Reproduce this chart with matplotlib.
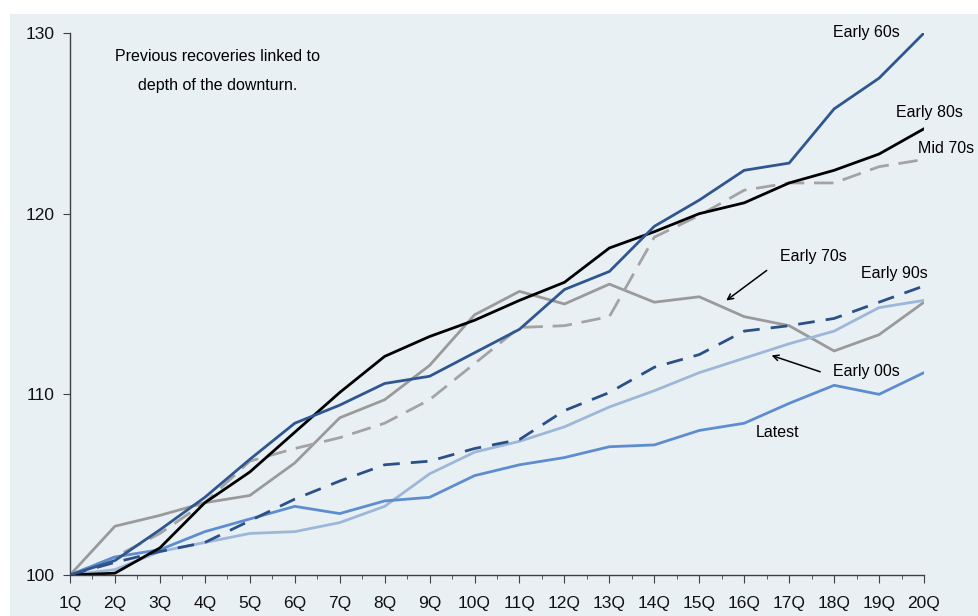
import matplotlib
matplotlib.use("Agg")
import matplotlib.pyplot as plt
from matplotlib.patches import Rectangle
from matplotlib.ticker import MultipleLocator

plt.rcParams['font.family'] = ['Liberation Sans', 'DejaVu Sans']

quarters = [f"{i}Q" for i in range(1, 21)]

early_60s = [100, 100.8, 102.5, 104.3, 106.4, 108.4, 109.4, 110.6, 111.0, 112.3,
             113.6, 115.8, 116.8, 119.3, 120.75, 122.4, 122.8, 125.8, 127.5, 130.0]
early_80s = [100, 100.1, 101.5, 104.0, 105.7, 107.9, 110.1, 112.1, 113.2, 114.1,
             115.2, 116.2, 118.1, 119.0, 120.0, 120.6, 121.7, 122.4, 123.3, 124.7]
mid_70s = [100, 101.0, 102.3, 104.0, 106.3, 107.0, 107.6, 108.4, 109.7, 111.7,
           113.7, 113.8, 114.3, 118.7, 119.9, 121.3, 121.7, 121.7, 122.6, 123.0]
early_70s = [100, 102.7, 103.3, 104.0, 104.4, 106.2, 108.7, 109.7, 111.6, 114.4,
             115.7, 115.0, 116.1, 115.1, 115.4, 114.3, 113.8, 112.4, 113.3, 115.1]
early_90s = [100, 100.7, 101.3, 101.8, 103.0, 104.2, 105.2, 106.1, 106.3, 107.0,
             107.5, 109.1, 110.1, 111.5, 112.2, 113.5, 113.8, 114.2, 115.1, 116.0]
early_00s = [100, 100.3, 101.3, 101.8, 102.3, 102.4, 102.9, 103.8, 105.6, 106.8,
             107.4, 108.2, 109.3, 110.2, 111.2, 112.0, 112.8, 113.5, 114.8, 115.2]
latest = [100, 101.0, 101.4, 102.4, 103.1, 103.8, 103.4, 104.1, 104.3, 105.5,
          106.1, 106.5, 107.1, 107.2, 108.0, 108.4, 109.5, 110.5, 110.0, 111.2]

fig = plt.figure(figsize=(9.79, 6.16), dpi=100, facecolor='white')
# light panel behind the chart
fig.patches.append(Rectangle((10 / 979, 0), 1, (616 - 14) / 616,
                             transform=fig.transFigure, facecolor='#e9f0f4',
                             edgecolor='none', zorder=-5))

ax = fig.add_axes([70 / 979, 41 / 616, 854 / 979, 542 / 616])
ax.set_facecolor('none')
ax.set_zorder(5)

x = range(len(quarters))
lw = 2.0
ax.plot(x, early_70s, color='#9a9a9a', lw=lw)
ax.plot(x, mid_70s, color='#a3a3a3', lw=lw, dashes=(7, 3.5))
ax.plot(x, early_00s, color='#9db7d9', lw=lw)
ax.plot(x, latest, color='#5e8dcf', lw=lw)
ax.plot(x, early_90s, color='#2b5088', lw=lw, dashes=(6, 4))
ax.plot(x, early_80s, color='black', lw=lw)
ax.plot(x, early_60s, color='#2f5690', lw=lw)

ax.set_xlim(0, 19)
ax.set_ylim(100, 130)
ax.set_xticks(list(x))
ax.set_xticklabels(quarters)
ax.xaxis.set_minor_locator(MultipleLocator(0.5))
ax.set_yticks([100, 110, 120, 130])

for s in ['top', 'right']:
    ax.spines[s].set_visible(False)
for s in ['left', 'bottom']:
    ax.spines[s].set_color('#404040')
    ax.spines[s].set_linewidth(1.0)
ax.tick_params(axis='x', which='major', length=6, color='#404040', labelsize=12.5, pad=9)
ax.tick_params(axis='x', which='minor', length=3, color='#404040')
ax.tick_params(axis='y', length=5, color='#404040', labelsize=12.5, pad=6)
for lab in ax.get_xticklabels() + ax.get_yticklabels():
    lab.set_color('#111111')

fs = 11.5
ax.text(3.29, 128.72, "Previous recoveries linked to", ha='center', va='center', fontsize=11.5)
ax.text(3.29, 127.12, "depth of the downturn.", ha='center', va='center', fontsize=11.5)
ax.text(17.71, 130.05, "Early 60s", ha='center', va='center', fontsize=fs)
ax.text(19.11, 125.62, "Early 80s", ha='center', va='center', fontsize=fs)
ax.text(19.49, 123.63, "Mid 70s", ha='center', va='center', fontsize=fs)
ax.text(16.53, 117.65, "Early 70s", ha='center', va='center', fontsize=fs)
ax.text(18.33, 116.71, "Early 90s", ha='center', va='center', fontsize=fs)
ax.text(17.71, 111.29, "Early 00s", ha='center', va='center', fontsize=fs)
ax.text(15.75, 107.86, "Latest", ha='center', va='center', fontsize=fs)

ax.annotate("", xy=(14.55, 115.1), xytext=(15.55, 116.95),
            arrowprops=dict(arrowstyle='->', color='black', lw=1.1))
ax.annotate("", xy=(15.55, 112.2), xytext=(16.75, 111.2),
            arrowprops=dict(arrowstyle='->', color='black', lw=1.1))

fig.savefig("out.png", dpi=100, facecolor='white')
